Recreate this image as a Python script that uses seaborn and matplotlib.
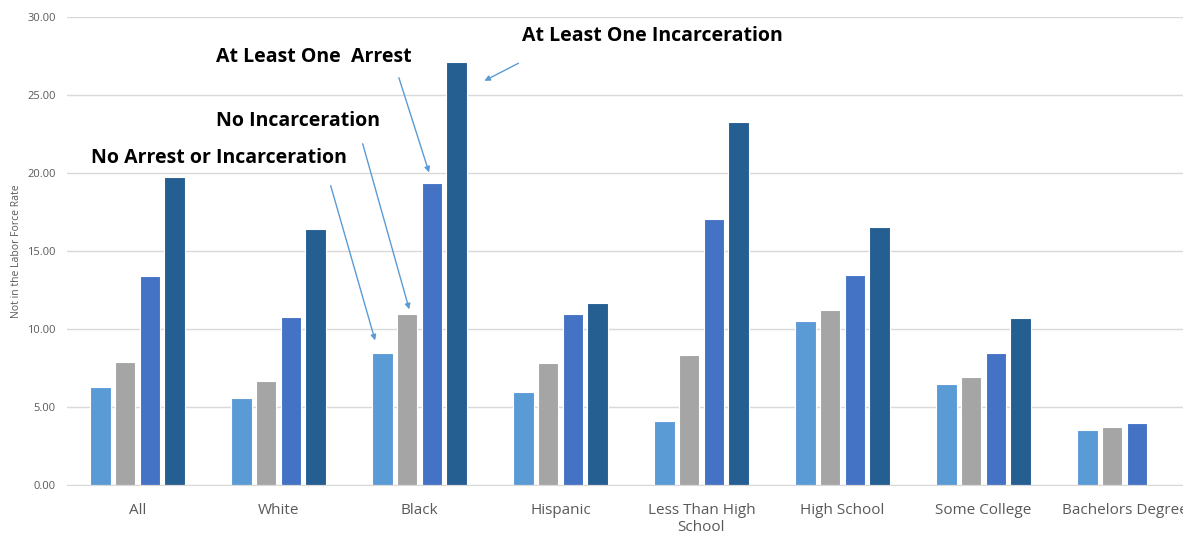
import numpy as np
import pandas as pd
import seaborn as sns
import matplotlib.pyplot as plt

# groups on the x axis
categories = ["All", "White", "Black", "Hispanic", "Less Than High\nSchool",
              "High School", "Some College", "Bachelors Degree"]
series = ["No Arrest or Incarceration", "No Incarceration",
          "At Least One  Arrest", "At Least One Incarceration"]

no_arrest = [6.28, 5.58, 8.46, 5.96, 4.10, 10.50, 6.45, 3.52]
no_incarc = [7.90, 6.67, 10.96, 7.82, 8.33, 11.20, 6.90, 3.70]
one_arrest = [13.40, 10.77, 19.36, 10.94, 17.05, 13.46, 8.46, 3.98]
one_incarc = [19.72, 16.40, 27.12, 11.67, 23.27, 16.55, 10.70, np.nan]

colors = ["#5B9BD5", "#A5A5A5", "#4472C4", "#255E91"]

rows = []
for s, vals in zip(series, [no_arrest, no_incarc, one_arrest, one_incarc]):
    for c, v in zip(categories, vals):
        rows.append({"cat": c, "series": s, "value": v})
df = pd.DataFrame(rows)

sns.set_style("white")
plt.rcParams["font.family"] = ["Open Sans", "DejaVu Sans"]

fig = plt.figure(figsize=(11.83, 5.37), dpi=100)
ax = fig.add_axes([0.0566, 0.0968, 0.9535, 0.8715])

sns.barplot(data=df, x="cat", y="value", hue="series", order=categories,
            hue_order=series, palette=colors, saturation=1, width=0.70, gap=0.18,
            edgecolor="white", linewidth=0.8, legend=False, ax=ax)

ax.set_xlim(-0.5, 7.5)
ax.set_ylim(0, 30)
ax.set_yticks(np.arange(0, 31, 5))
ax.set_yticklabels([f"{v:.2f}" for v in np.arange(0, 31, 5)])
ax.yaxis.grid(True, color="#D9D9D9", linewidth=1)
ax.set_axisbelow(True)
for side in ["top", "right", "left"]:
    ax.spines[side].set_visible(False)
ax.spines["bottom"].set_color("#D9D9D9")
ax.tick_params(axis="y", labelsize=8, colors="#595959", length=0, pad=8)
ax.tick_params(axis="x", labelsize=11, colors="#595959", length=0, pad=13)
ax.set_xlabel("")
ax.set_ylabel("Not in the Labor Force Rate", fontsize=7.5, color="#595959", labelpad=4)

# annotation labels with arrows
labels = [
    ("No Arrest or Incarceration", (-0.33, 20.96), (1.365, 19.36), (1.691, 9.10)),
    ("No Incarceration", (0.557, 23.33), (1.592, 22.05), (1.933, 11.09)),
    ("At Least One  Arrest", (0.557, 27.44), (1.848, 26.28), (2.074, 19.87)),
    ("At Least One Incarceration", (2.727, 28.78), (2.72, 27.12), (2.443, 25.83)),
]
for txt, tpos, start, end in labels:
    ax.text(tpos[0], tpos[1], txt, fontsize=14, fontweight="bold",
            ha="left", va="center", color="black", clip_on=False)
    ax.annotate("", xy=end, xytext=start,
                arrowprops=dict(arrowstyle="-|>", color="#5B9BD5", lw=1,
                                mutation_scale=8))

fig.savefig("out.png", dpi=100)
